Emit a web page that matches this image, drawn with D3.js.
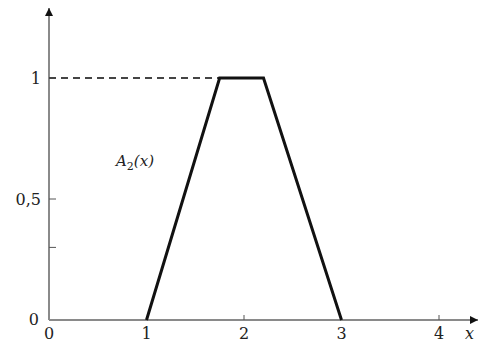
<!DOCTYPE html>
<html>
<head>
<meta charset="utf-8">
<script src="https://cdn.jsdelivr.net/npm/d3@7"></script>
<style>
  body { margin: 0; background: #fff; }
</style>
</head>
<body>
<script>
// membership function A2(x): trapezoid
const xs = [1, 1.75, 2.2, 3];
const ys = [0, 1, 1, 0];
const xTicks = [0, 1, 2, 3, 4];
const xTickLabels = ["0", "1", "2", "3", "4"];
const yTicks = [1, 0.5];
const yTickLabels = ["1", "0,5"];
const yMinorTicks = [0.3, 0.5];
const xSmallTicks = [2, 4];

const width = 480, height = 343;
const serif = "'DejaVu Serif', 'Liberation Serif', serif";

const x = d3.scaleLinear().domain([0, 4]).range([49, 439]);
const y = d3.scaleLinear().domain([0, 1]).range([320, 78]);

const svg = d3.select("body").append("svg")
  .attr("width", width)
  .attr("height", height)
  .style("font-family", serif);

const defs = svg.append("defs");
defs.append("marker")
  .attr("id", "arrow")
  .attr("viewBox", "0 0 10 10")
  .attr("refX", 10).attr("refY", 5)
  .attr("markerWidth", 10).attr("markerHeight", 8)
  .attr("markerUnits", "userSpaceOnUse")
  .attr("orient", "auto")
  .append("path")
  .attr("d", "M0,0 L10,5 L0,10 Z")
  .attr("fill", "#111");

// axes
svg.append("line")
  .attr("x1", x(0)).attr("y1", y(0))
  .attr("x2", x(0)).attr("y2", 8)
  .attr("stroke", "#8a8a8a").attr("stroke-width", 2)
  .attr("marker-end", "url(#arrow)");

svg.append("line")
  .attr("x1", x(0)).attr("y1", y(0))
  .attr("x2", 478).attr("y2", y(0))
  .attr("stroke", "#8a8a8a").attr("stroke-width", 2)
  .attr("marker-end", "url(#arrow)");

// small ticks
svg.selectAll(".ytick").data(yMinorTicks).enter()
  .append("line")
  .attr("x1", x(0)).attr("x2", x(0) + 7)
  .attr("y1", d => y(d)).attr("y2", d => y(d))
  .attr("stroke", "#555").attr("stroke-width", 1);

svg.selectAll(".xtick").data(xSmallTicks).enter()
  .append("line")
  .attr("x1", d => x(d)).attr("x2", d => x(d))
  .attr("y1", y(0)).attr("y2", y(0) - 5)
  .attr("stroke", "#555").attr("stroke-width", 1);

// dashed level at 1
svg.append("line")
  .attr("x1", x(0)).attr("x2", x(xs[1]))
  .attr("y1", y(1)).attr("y2", y(1))
  .attr("stroke", "#444").attr("stroke-width", 2)
  .attr("stroke-dasharray", "7,5");

// trapezoid
const line = d3.line().x((d, i) => x(xs[i])).y((d, i) => y(ys[i]));
svg.append("path")
  .datum(xs)
  .attr("d", line)
  .attr("fill", "none")
  .attr("stroke", "#111")
  .attr("stroke-width", 3)
  .attr("stroke-linejoin", "miter");

// tick labels
svg.selectAll(".xl").data(xTicks).enter()
  .append("text")
  .attr("x", d => x(d)).attr("y", 339)
  .attr("text-anchor", "middle")
  .attr("font-size", 16)
  .attr("fill", "#222")
  .text((d, i) => xTickLabels[i]);

svg.selectAll(".yl").data(yTicks).enter()
  .append("text")
  .attr("x", 41).attr("y", d => y(d) + 6)
  .attr("text-anchor", "end")
  .attr("font-size", 16)
  .attr("fill", "#222")
  .text((d, i) => yTickLabels[i]);

svg.append("text")
  .attr("x", 39).attr("y", 325)
  .attr("text-anchor", "end")
  .attr("font-size", 16)
  .attr("fill", "#222")
  .text("0");

svg.append("text")
  .attr("x", 465).attr("y", 339)
  .attr("font-size", 16)
  .attr("font-style", "italic")
  .attr("fill", "#222")
  .text("x");

// function label
const lab = svg.append("text")
  .attr("x", 116).attr("y", 166)
  .attr("font-size", 15)
  .attr("font-style", "italic")
  .attr("fill", "#222");
lab.append("tspan").text("A");
lab.append("tspan").attr("dy", 4).attr("font-size", 11).attr("font-style", "normal").text("2");
lab.append("tspan").attr("dy", -4).text("(x)");
</script>
</body>
</html>
